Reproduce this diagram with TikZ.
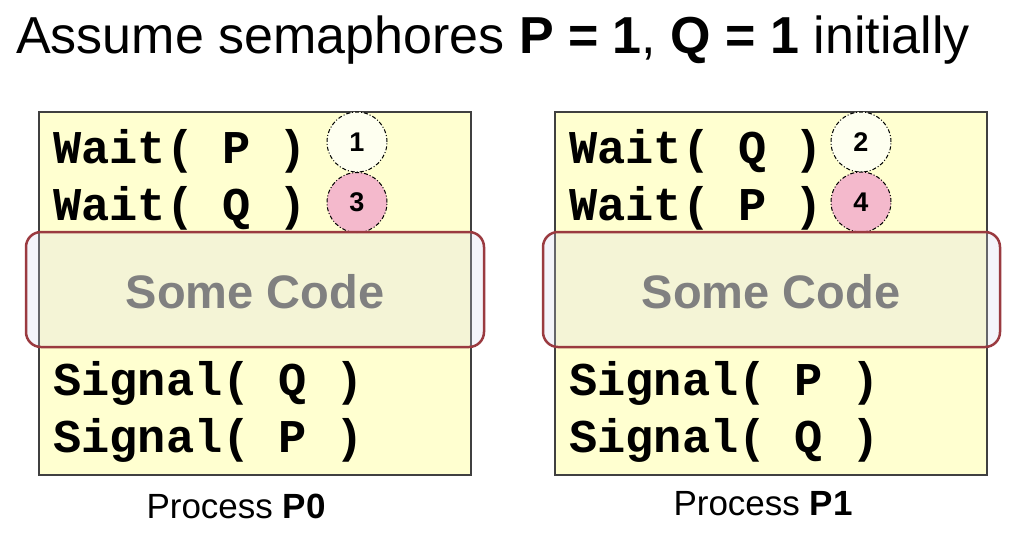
\documentclass[tikz,border=0pt]{standalone}
\usepackage{fontspec}
\setmainfont{Liberation Sans}
\newfontfamily\codefont{Liberation Mono}
\definecolor{boxyellow}{RGB}{255,255,208}
\definecolor{boxborder}{RGB}{64,64,64}
\definecolor{ivory}{RGB}{254,255,240}
\definecolor{pinkish}{RGB}{244,185,204}
\definecolor{maroon}{RGB}{154,58,64}
\definecolor{veil}{RGB}{212,212,234}
\definecolor{codegray}{RGB}{128,128,128}
\tikzset{
  procbox/.style={draw=boxborder, line width=1.5pt, fill=boxyellow},
  codeline/.style={anchor=base west, inner sep=0pt, font=\codefont\bfseries\fontsize{47}{56}\selectfont},
  stepcirc/.style={circle, draw=black, line width=1pt, dash pattern=on 4pt off 2pt on 1pt off 2pt, minimum size=60pt, inner sep=0pt, font=\bfseries\fontsize{27}{32}\selectfont},
  veilbox/.style={draw=maroon, line width=2.5pt, rounded corners=15pt, fill=veil, fill opacity=0.25},
  sometext/.style={anchor=base, inner sep=0pt, text=codegray, font=\bfseries\fontsize{47}{56}\selectfont},
  caption/.style={anchor=base, inner sep=0pt, font=\fontsize{35}{42}\selectfont}
}
\begin{document}
\begin{tikzpicture}[x=1pt,y=-1pt]
\useasboundingbox (0,0) rectangle (1018,550);
% title
\node[anchor=base west, inner sep=0pt, font=\fontsize{52}{60}\selectfont] (title) at (16,53)
  {Assume semaphores \textbf{P = 1}, \textbf{Q = 1} initially};
% process boxes
\path[procbox] (39,112) rectangle (471,475);
\node[draw=none, minimum width=432pt, minimum height=363pt, inner sep=0pt] (box0) at (255,293.5) {};
\path[procbox] (555,112) rectangle (987,475);
\node[draw=none, minimum width=432pt, minimum height=363pt, inner sep=0pt] (box1) at (771,293.5) {};
% code lines P0
\node[codeline] (a1) at (53,163) {Wait( P )};
\node[codeline] (a2) at (53,220) {Wait( Q )};
\node[codeline] (a3) at (53,395) {Signal( Q )};
\node[codeline] (a4) at (53,452) {Signal( P )};
% code lines P1
\node[codeline] (b1) at (569,163) {Wait( Q )};
\node[codeline] (b2) at (569,220) {Wait( P )};
\node[codeline] (b3) at (569,395) {Signal( P )};
\node[codeline] (b4) at (569,452) {Signal( Q )};
% step circles
\node[stepcirc, fill=ivory] (c1) at (357,142) {1};
\node[stepcirc, fill=pinkish] (c3) at (357,202.5) {3};
\node[stepcirc, fill=ivory] (c2) at (861,142) {2};
\node[stepcirc, fill=pinkish] (c4) at (861,202) {4};
% some code overlays
\path[veilbox] (26,232) rectangle (484,347);
\node[sometext] (s0) at (255,308) {Some Code};
\path[veilbox] (543,232) rectangle (1000,347);
\node[sometext] (s1) at (771,308) {Some Code};
% captions
\node[caption] (p0) at (236,518) {Process \textbf{P0}};
\node[caption] (p1) at (763,515) {Process \textbf{P1}};
\end{tikzpicture}
\end{document}
